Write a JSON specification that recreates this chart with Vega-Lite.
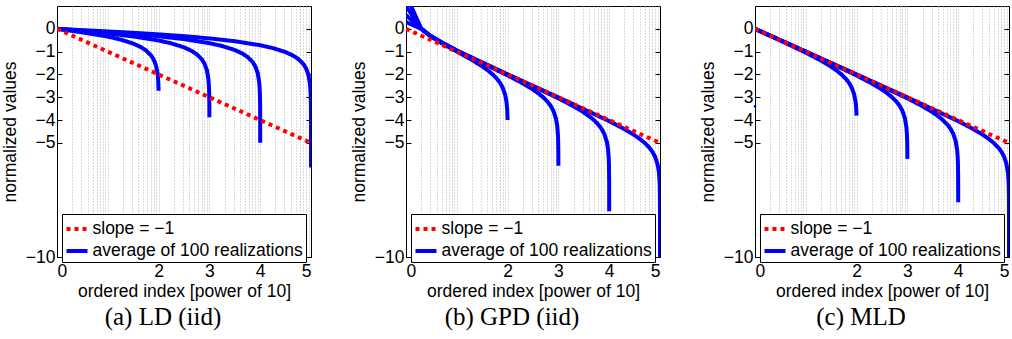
{
  "$schema": "https://vega.github.io/schema/vega-lite/v6.json",
  "padding": {"left": 0, "top": 5, "right": 0, "bottom": 0},
  "background": "white",
  "config": {
    "font": "Liberation Sans",
    "view": {"stroke": "black", "strokeWidth": 1},
    "axis": {"labelFont": "Liberation Sans", "titleFont": "Liberation Sans", "labelFontSize": 17.5, "titleFontSize": 17.5, "titleFontWeight": "normal", "labelColor": "black", "titleColor": "black", "domain": false, "tickColor": "black", "grid": false},
    "legend": {"labelLimit": 400},
    "title": {"font": "Liberation Serif", "fontSize": 25, "fontWeight": "normal", "color": "black"}
  },
  "data": {"values": [
    {"p":"a","s":"slope","n":0,"x":0,"y":0},{"p":"a","s":"slope","n":0,"x":5,"y":-5},
    {"p":"b","s":"slope","n":0,"x":0,"y":0},{"p":"b","s":"slope","n":0,"x":5,"y":-5},
    {"p":"c","s":"slope","n":0,"x":0,"y":0},{"p":"c","s":"slope","n":0,"x":5,"y":-5},
    {"p":"c","s":"dot","n":0,"x":0,"y":-3.4},

    {"p":"a","s":"avg","n":2,"x":0,"y":0},{"p":"a","s":"avg","n":2,"x":0.5,"y":-0.155},{"p":"a","s":"avg","n":2,"x":1,"y":-0.342},{"p":"a","s":"avg","n":2,"x":1.25,"y":-0.469},{"p":"a","s":"avg","n":2,"x":1.5,"y":-0.646},{"p":"a","s":"avg","n":2,"x":1.65,"y":-0.8},{"p":"a","s":"avg","n":2,"x":1.75,"y":-0.944},{"p":"a","s":"avg","n":2,"x":1.85,"y":-1.162},{"p":"a","s":"avg","n":2,"x":1.9,"y":-1.332},{"p":"a","s":"avg","n":2,"x":1.95,"y":-1.616},{"p":"a","s":"avg","n":2,"x":1.98,"y":-1.965},{"p":"a","s":"avg","n":2,"x":1.9868,"y":-2.106},{"p":"a","s":"avg","n":2,"x":1.9912,"y":-2.234},{"p":"a","s":"avg","n":2,"x":1.9956,"y":-2.412},{"p":"a","s":"avg","n":2,"x":2,"y":-2.715},

    {"p":"a","s":"avg","n":3,"x":0,"y":0},{"p":"a","s":"avg","n":3,"x":0.5,"y":-0.101},{"p":"a","s":"avg","n":3,"x":1,"y":-0.206},{"p":"a","s":"avg","n":3,"x":1.5,"y":-0.334},{"p":"a","s":"avg","n":3,"x":2,"y":-0.511},{"p":"a","s":"avg","n":3,"x":2.25,"y":-0.636},{"p":"a","s":"avg","n":3,"x":2.5,"y":-0.812},{"p":"a","s":"avg","n":3,"x":2.65,"y":-0.967},{"p":"a","s":"avg","n":3,"x":2.75,"y":-1.113},{"p":"a","s":"avg","n":3,"x":2.85,"y":-1.334},{"p":"a","s":"avg","n":3,"x":2.9,"y":-1.51},{"p":"a","s":"avg","n":3,"x":2.95,"y":-1.809},{"p":"a","s":"avg","n":3,"x":2.98,"y":-2.201},{"p":"a","s":"avg","n":3,"x":2.99,"y":-2.493},{"p":"a","s":"avg","n":3,"x":2.995,"y":-2.778},{"p":"a","s":"avg","n":3,"x":2.998,"y":-3.125},{"p":"a","s":"avg","n":3,"x":2.99913,"y":-3.397},{"p":"a","s":"avg","n":3,"x":2.99957,"y":-3.573},{"p":"a","s":"avg","n":3,"x":3,"y":-3.874},

    {"p":"a","s":"avg","n":4,"x":0,"y":0},{"p":"a","s":"avg","n":4,"x":0.5,"y":-0.075},{"p":"a","s":"avg","n":4,"x":1,"y":-0.148},{"p":"a","s":"avg","n":4,"x":1.5,"y":-0.229},{"p":"a","s":"avg","n":4,"x":2,"y":-0.327},{"p":"a","s":"avg","n":4,"x":2.5,"y":-0.452},{"p":"a","s":"avg","n":4,"x":3,"y":-0.628},{"p":"a","s":"avg","n":4,"x":3.25,"y":-0.753},{"p":"a","s":"avg","n":4,"x":3.5,"y":-0.929},{"p":"a","s":"avg","n":4,"x":3.65,"y":-1.084},{"p":"a","s":"avg","n":4,"x":3.75,"y":-1.23},{"p":"a","s":"avg","n":4,"x":3.85,"y":-1.452},{"p":"a","s":"avg","n":4,"x":3.9,"y":-1.628},{"p":"a","s":"avg","n":4,"x":3.95,"y":-1.93},{"p":"a","s":"avg","n":4,"x":3.98,"y":-2.327},{"p":"a","s":"avg","n":4,"x":3.99,"y":-2.627},{"p":"a","s":"avg","n":4,"x":3.995,"y":-2.93},{"p":"a","s":"avg","n":4,"x":3.998,"y":-3.318},{"p":"a","s":"avg","n":4,"x":3.999,"y":-3.61},{"p":"a","s":"avg","n":4,"x":3.9996,"y":-3.991},{"p":"a","s":"avg","n":4,"x":3.99996,"y":-4.69},{"p":"a","s":"avg","n":4,"x":4,"y":-4.991},

    {"p":"a","s":"avg","n":5,"x":0,"y":0},{"p":"a","s":"avg","n":5,"x":0.5,"y":-0.06},{"p":"a","s":"avg","n":5,"x":1,"y":-0.116},{"p":"a","s":"avg","n":5,"x":1.5,"y":-0.175},{"p":"a","s":"avg","n":5,"x":2,"y":-0.243},{"p":"a","s":"avg","n":5,"x":2.5,"y":-0.322},{"p":"a","s":"avg","n":5,"x":3,"y":-0.419},{"p":"a","s":"avg","n":5,"x":3.5,"y":-0.544},{"p":"a","s":"avg","n":5,"x":4,"y":-0.72},{"p":"a","s":"avg","n":5,"x":4.25,"y":-0.845},{"p":"a","s":"avg","n":5,"x":4.5,"y":-1.021},{"p":"a","s":"avg","n":5,"x":4.65,"y":-1.176},{"p":"a","s":"avg","n":5,"x":4.75,"y":-1.322},{"p":"a","s":"avg","n":5,"x":4.85,"y":-1.544},{"p":"a","s":"avg","n":5,"x":4.9,"y":-1.72},{"p":"a","s":"avg","n":5,"x":4.95,"y":-2.021},{"p":"a","s":"avg","n":5,"x":4.98,"y":-2.419},{"p":"a","s":"avg","n":5,"x":4.99,"y":-2.72},{"p":"a","s":"avg","n":5,"x":4.995,"y":-3.021},{"p":"a","s":"avg","n":5,"x":4.998,"y":-3.418},{"p":"a","s":"avg","n":5,"x":4.999,"y":-3.718},{"p":"a","s":"avg","n":5,"x":4.9996,"y":-4.114},{"p":"a","s":"avg","n":5,"x":4.9999,"y":-4.702},{"p":"a","s":"avg","n":5,"x":4.99996,"y":-5.082},{"p":"a","s":"avg","n":5,"x":5,"y":-6.082},

    {"p":"b","s":"avg","n":2,"x":0,"y":0.3},{"p":"b","s":"avg","n":2,"x":0.301,"y":-0.004},{"p":"b","s":"avg","n":2,"x":0.477,"y":-0.31},{"p":"b","s":"avg","n":2,"x":0.699,"y":-0.62},{"p":"b","s":"avg","n":2,"x":1,"y":-0.995},{"p":"b","s":"avg","n":2,"x":1.301,"y":-1.37},{"p":"b","s":"avg","n":2,"x":1.477,"y":-1.611},{"p":"b","s":"avg","n":2,"x":1.602,"y":-1.806},{"p":"b","s":"avg","n":2,"x":1.699,"y":-1.983},{"p":"b","s":"avg","n":2,"x":1.778,"y":-2.158},{"p":"b","s":"avg","n":2,"x":1.845,"y":-2.347},{"p":"b","s":"avg","n":2,"x":1.903,"y":-2.575},{"p":"b","s":"avg","n":2,"x":1.954,"y":-2.908},{"p":"b","s":"avg","n":2,"x":1.978,"y":-3.195},{"p":"b","s":"avg","n":2,"x":1.9912,"y":-3.51},{"p":"b","s":"avg","n":2,"x":1.99564,"y":-3.69},{"p":"b","s":"avg","n":2,"x":2,"y":-3.996},

    {"p":"b","s":"avg","n":3,"x":0,"y":0.6},{"p":"b","s":"avg","n":3,"x":0.301,"y":0},{"p":"b","s":"avg","n":3,"x":0.477,"y":-0.302},{"p":"b","s":"avg","n":3,"x":1,"y":-0.958},{"p":"b","s":"avg","n":3,"x":1.505,"y":-1.505},{"p":"b","s":"avg","n":3,"x":2,"y":-2.041},{"p":"b","s":"avg","n":3,"x":2.301,"y":-2.395},{"p":"b","s":"avg","n":3,"x":2.477,"y":-2.63},{"p":"b","s":"avg","n":3,"x":2.602,"y":-2.822},{"p":"b","s":"avg","n":3,"x":2.699,"y":-2.998},{"p":"b","s":"avg","n":3,"x":2.778,"y":-3.174},{"p":"b","s":"avg","n":3,"x":2.845,"y":-3.366},{"p":"b","s":"avg","n":3,"x":2.903,"y":-3.599},{"p":"b","s":"avg","n":3,"x":2.954,"y":-3.95},{"p":"b","s":"avg","n":3,"x":2.978,"y":-4.27},{"p":"b","s":"avg","n":3,"x":2.9912,"y":-4.669},{"p":"b","s":"avg","n":3,"x":2.9956,"y":-4.954},{"p":"b","s":"avg","n":3,"x":2.99913,"y":-5.522},{"p":"b","s":"avg","n":3,"x":2.99957,"y":-5.698},{"p":"b","s":"avg","n":3,"x":3,"y":-6},

    {"p":"b","s":"avg","n":4,"x":0,"y":1},{"p":"b","s":"avg","n":4,"x":0.301,"y":0},{"p":"b","s":"avg","n":4,"x":0.477,"y":-0.301},{"p":"b","s":"avg","n":4,"x":0.699,"y":-0.602},{"p":"b","s":"avg","n":4,"x":1,"y":-0.955},{"p":"b","s":"avg","n":4,"x":2,"y":-2},{"p":"b","s":"avg","n":4,"x":3,"y":-3.045},{"p":"b","s":"avg","n":4,"x":3.301,"y":-3.398},{"p":"b","s":"avg","n":4,"x":3.477,"y":-3.632},{"p":"b","s":"avg","n":4,"x":3.602,"y":-3.824},{"p":"b","s":"avg","n":4,"x":3.699,"y":-4},{"p":"b","s":"avg","n":4,"x":3.778,"y":-4.176},{"p":"b","s":"avg","n":4,"x":3.845,"y":-4.368},{"p":"b","s":"avg","n":4,"x":3.903,"y":-4.602},{"p":"b","s":"avg","n":4,"x":3.954,"y":-4.954},{"p":"b","s":"avg","n":4,"x":3.978,"y":-5.278},{"p":"b","s":"avg","n":4,"x":3.9912,"y":-5.688},{"p":"b","s":"avg","n":4,"x":3.9956,"y":-5.996},{"p":"b","s":"avg","n":4,"x":3.99913,"y":-6.677},{"p":"b","s":"avg","n":4,"x":3.99983,"y":-7.301},{"p":"b","s":"avg","n":4,"x":3.99996,"y":-7.699},{"p":"b","s":"avg","n":4,"x":4,"y":-8},

    {"p":"b","s":"avg","n":5,"x":0,"y":1.5},{"p":"b","s":"avg","n":5,"x":0.301,"y":0},{"p":"b","s":"avg","n":5,"x":0.477,"y":-0.301},{"p":"b","s":"avg","n":5,"x":0.699,"y":-0.602},{"p":"b","s":"avg","n":5,"x":1,"y":-0.954},{"p":"b","s":"avg","n":5,"x":2,"y":-1.996},{"p":"b","s":"avg","n":5,"x":3,"y":-3.004},{"p":"b","s":"avg","n":5,"x":4,"y":-4.046},{"p":"b","s":"avg","n":5,"x":4.301,"y":-4.398},{"p":"b","s":"avg","n":5,"x":4.477,"y":-4.632},{"p":"b","s":"avg","n":5,"x":4.602,"y":-4.824},{"p":"b","s":"avg","n":5,"x":4.699,"y":-5},{"p":"b","s":"avg","n":5,"x":4.778,"y":-5.176},{"p":"b","s":"avg","n":5,"x":4.845,"y":-5.368},{"p":"b","s":"avg","n":5,"x":4.903,"y":-5.602},{"p":"b","s":"avg","n":5,"x":4.954,"y":-5.954},{"p":"b","s":"avg","n":5,"x":4.978,"y":-6.278},{"p":"b","s":"avg","n":5,"x":4.9912,"y":-6.688},{"p":"b","s":"avg","n":5,"x":4.9956,"y":-6.996},{"p":"b","s":"avg","n":5,"x":4.99913,"y":-7.696},{"p":"b","s":"avg","n":5,"x":4.99991,"y":-8.678},{"p":"b","s":"avg","n":5,"x":4.99999,"y":-9.52},{"p":"b","s":"avg","n":5,"x":5,"y":-10},

    {"p":"c","s":"avg","n":2,"x":0,"y":-0.004},{"p":"c","s":"avg","n":2,"x":0.301,"y":-0.31},{"p":"c","s":"avg","n":2,"x":0.5,"y":-0.514},{"p":"c","s":"avg","n":2,"x":1,"y":-1.045},{"p":"c","s":"avg","n":2,"x":1.3,"y":-1.395},{"p":"c","s":"avg","n":2,"x":1.5,"y":-1.662},{"p":"c","s":"avg","n":2,"x":1.6,"y":-1.816},{"p":"c","s":"avg","n":2,"x":1.7,"y":-1.995},{"p":"c","s":"avg","n":2,"x":1.8,"y":-2.221},{"p":"c","s":"avg","n":2,"x":1.85,"y":-2.368},{"p":"c","s":"avg","n":2,"x":1.9,"y":-2.561},{"p":"c","s":"avg","n":2,"x":1.95,"y":-2.86},{"p":"c","s":"avg","n":2,"x":1.98,"y":-3.2},{"p":"c","s":"avg","n":2,"x":1.99,"y":-3.406},{"p":"c","s":"avg","n":2,"x":2,"y":-3.8},

    {"p":"c","s":"avg","n":3,"x":0,"y":0},{"p":"c","s":"avg","n":3,"x":0.301,"y":-0.302},{"p":"c","s":"avg","n":3,"x":1,"y":-1.004},{"p":"c","s":"avg","n":3,"x":1.5,"y":-1.514},{"p":"c","s":"avg","n":3,"x":2,"y":-2.046},{"p":"c","s":"avg","n":3,"x":2.3,"y":-2.396},{"p":"c","s":"avg","n":3,"x":2.5,"y":-2.665},{"p":"c","s":"avg","n":3,"x":2.6,"y":-2.82},{"p":"c","s":"avg","n":3,"x":2.7,"y":-3.001},{"p":"c","s":"avg","n":3,"x":2.8,"y":-3.231},{"p":"c","s":"avg","n":3,"x":2.85,"y":-3.382},{"p":"c","s":"avg","n":3,"x":2.9,"y":-3.584},{"p":"c","s":"avg","n":3,"x":2.95,"y":-3.907},{"p":"c","s":"avg","n":3,"x":2.98,"y":-4.309},{"p":"c","s":"avg","n":3,"x":2.99,"y":-4.597},{"p":"c","s":"avg","n":3,"x":2.995,"y":-4.867},{"p":"c","s":"avg","n":3,"x":2.998,"y":-5.179},{"p":"c","s":"avg","n":3,"x":3,"y":-5.699},

    {"p":"c","s":"avg","n":4,"x":0,"y":0},{"p":"c","s":"avg","n":4,"x":0.301,"y":-0.301},{"p":"c","s":"avg","n":4,"x":1,"y":-1},{"p":"c","s":"avg","n":4,"x":2,"y":-2.004},{"p":"c","s":"avg","n":4,"x":3,"y":-3.046},{"p":"c","s":"avg","n":4,"x":3.3,"y":-3.397},{"p":"c","s":"avg","n":4,"x":3.5,"y":-3.665},{"p":"c","s":"avg","n":4,"x":3.6,"y":-3.82},{"p":"c","s":"avg","n":4,"x":3.7,"y":-4.002},{"p":"c","s":"avg","n":4,"x":3.8,"y":-4.233},{"p":"c","s":"avg","n":4,"x":3.85,"y":-4.384},{"p":"c","s":"avg","n":4,"x":3.9,"y":-4.587},{"p":"c","s":"avg","n":4,"x":3.95,"y":-4.913},{"p":"c","s":"avg","n":4,"x":3.98,"y":-5.325},{"p":"c","s":"avg","n":4,"x":3.99,"y":-5.629},{"p":"c","s":"avg","n":4,"x":3.995,"y":-5.929},{"p":"c","s":"avg","n":4,"x":3.998,"y":-6.317},{"p":"c","s":"avg","n":4,"x":3.9995,"y":-6.87},{"p":"c","s":"avg","n":4,"x":4,"y":-7.602},

    {"p":"c","s":"avg","n":5,"x":0,"y":0},{"p":"c","s":"avg","n":5,"x":0.301,"y":-0.301},{"p":"c","s":"avg","n":5,"x":1,"y":-1},{"p":"c","s":"avg","n":5,"x":2,"y":-2},{"p":"c","s":"avg","n":5,"x":3,"y":-3.004},{"p":"c","s":"avg","n":5,"x":4,"y":-4.046},{"p":"c","s":"avg","n":5,"x":4.3,"y":-4.397},{"p":"c","s":"avg","n":5,"x":4.5,"y":-4.665},{"p":"c","s":"avg","n":5,"x":4.6,"y":-4.82},{"p":"c","s":"avg","n":5,"x":4.7,"y":-5.002},{"p":"c","s":"avg","n":5,"x":4.8,"y":-5.233},{"p":"c","s":"avg","n":5,"x":4.85,"y":-5.385},{"p":"c","s":"avg","n":5,"x":4.9,"y":-5.587},{"p":"c","s":"avg","n":5,"x":4.95,"y":-5.914},{"p":"c","s":"avg","n":5,"x":4.98,"y":-6.327},{"p":"c","s":"avg","n":5,"x":4.99,"y":-6.633},{"p":"c","s":"avg","n":5,"x":4.995,"y":-6.936},{"p":"c","s":"avg","n":5,"x":4.998,"y":-7.335},{"p":"c","s":"avg","n":5,"x":4.9995,"y":-7.939},{"p":"c","s":"avg","n":5,"x":4.9999,"y":-8.638},{"p":"c","s":"avg","n":5,"x":5,"y":-10.2}
  ]},
  "spacing": 95,
  "bounds": "flush",
  "resolve": {"scale": {"color": "independent", "strokeDash": "independent"}},
  "hconcat": [
    {
      "width": 254, "height": 251,
      "title": {"text": "(a) LD (iid)", "orient": "bottom", "dx": -21, "offset": 5},
      "transform": [{"filter": "datum.p == 'a'"}],
      "resolve": {"axis": {"x": "independent", "y": "independent"}},
      "layer": [
        {"transform": [{"filter": "datum.s == 'avg'"}],
         "mark": {"type": "line", "clip": true, "strokeWidth": 4},
         "encoding": {
           "x": {"field": "x", "type": "quantitative", "scale": {"domain": [0, 5], "nice": false}, "axis": {"orient": "bottom", "values": [0.30103,0.47712,0.60206,0.69897,0.77815,0.8451,0.90309,0.95424,1,1.30103,1.47712,1.60206,1.69897,1.77815,1.8451,1.90309,1.95424,2,2.30103,2.47712,2.60206,2.69897,2.77815,2.8451,2.90309,2.95424,3,3.30103,3.47712,3.60206,3.69897,3.77815,3.8451,3.90309,3.95424,4,4.30103,4.47712,4.60206,4.69897,4.77815,4.8451,4.90309,4.95424], "grid": true, "gridColor": "#b4b4b4", "gridDash": [1, 2], "gridWidth": 1, "ticks": false, "labels": false, "title": null}},
           "y": {"field": "y", "type": "quantitative", "scale": {"domain": [-10, 1], "nice": false, "zero": false}, "axis": {"orient": "left", "values": [-10, -5, -4, -3, -2, -1, 0], "tickSize": -5, "labelPadding": 7, "title": "normalized values", "titlePadding": 6}},
           "detail": {"field": "n", "type": "nominal"},
           "color": {"field": "s", "type": "nominal", "scale": {"domain": ["slope", "avg"], "range": ["#ff0000", "#0000ff"]}, "legend": {"title": null, "orient": "none", "legendX": 5, "legendY": 208, "labelExpr": "datum.label == 'slope' ? 'slope = −1' : 'average of 100 realizations'", "symbolType": "stroke", "symbolStrokeWidth": 4, "symbolSize": 441, "labelFontSize": 17.5, "labelFont": "Liberation Sans", "labelColor": "black", "strokeColor": "black", "fillColor": "white", "padding": 2.5, "rowPadding": 1, "labelOffset": 3, "labelLimit": 400}},
           "strokeDash": {"field": "s", "type": "nominal", "scale": {"domain": ["slope", "avg"], "range": [[4, 4], [1, 0]]}, "legend": {"title": null, "orient": "none", "legendX": 5, "legendY": 208, "labelExpr": "datum.label == 'slope' ? 'slope = −1' : 'average of 100 realizations'", "symbolType": "stroke", "symbolStrokeWidth": 4, "symbolSize": 441, "labelFontSize": 17.5, "labelFont": "Liberation Sans", "labelColor": "black", "strokeColor": "black", "fillColor": "white", "padding": 2.5, "rowPadding": 1, "labelOffset": 3, "labelLimit": 400}}
         }},
        {"transform": [{"filter": "datum.s == 'slope'"}],
         "mark": {"type": "line", "clip": true, "strokeWidth": 4},
         "encoding": {
           "x": {"field": "x", "type": "quantitative", "scale": {"domain": [0, 5], "nice": false}, "axis": {"orient": "bottom", "values": [0, 2, 3, 4, 5], "tickSize": -5, "labelPadding": 10, "title": "ordered index [power of 10]", "titlePadding": 3}},
           "y": {"field": "y", "type": "quantitative", "scale": {"domain": [-10, 1], "nice": false, "zero": false}, "axis": {"orient": "right", "values": [-10, -5, -4, -3, -2, -1, 0], "tickSize": -5, "labels": false, "title": null}},
           "color": {"field": "s", "type": "nominal"},
           "strokeDash": {"field": "s", "type": "nominal"}
         }}
      ]
    },
    {
      "width": 254, "height": 251,
      "title": {"text": "(b) GPD (iid)", "orient": "bottom", "dx": -21, "offset": 5},
      "transform": [{"filter": "datum.p == 'b'"}],
      "resolve": {"axis": {"x": "independent", "y": "independent"}},
      "layer": [
        {"transform": [{"filter": "datum.s == 'avg'"}],
         "mark": {"type": "line", "clip": true, "strokeWidth": 4},
         "encoding": {
           "x": {"field": "x", "type": "quantitative", "scale": {"domain": [0, 5], "nice": false}, "axis": {"orient": "bottom", "values": [0.30103,0.47712,0.60206,0.69897,0.77815,0.8451,0.90309,0.95424,1,1.30103,1.47712,1.60206,1.69897,1.77815,1.8451,1.90309,1.95424,2,2.30103,2.47712,2.60206,2.69897,2.77815,2.8451,2.90309,2.95424,3,3.30103,3.47712,3.60206,3.69897,3.77815,3.8451,3.90309,3.95424,4,4.30103,4.47712,4.60206,4.69897,4.77815,4.8451,4.90309,4.95424], "grid": true, "gridColor": "#b4b4b4", "gridDash": [1, 2], "gridWidth": 1, "ticks": false, "labels": false, "title": null}},
           "y": {"field": "y", "type": "quantitative", "scale": {"domain": [-10, 1], "nice": false, "zero": false}, "axis": {"orient": "left", "values": [-10, -5, -4, -3, -2, -1, 0], "tickSize": -5, "labelPadding": 7, "title": "normalized values", "titlePadding": 6}},
           "detail": {"field": "n", "type": "nominal"},
           "color": {"field": "s", "type": "nominal", "scale": {"domain": ["slope", "avg"], "range": ["#ff0000", "#0000ff"]}, "legend": {"title": null, "orient": "none", "legendX": 5, "legendY": 208, "labelExpr": "datum.label == 'slope' ? 'slope = −1' : 'average of 100 realizations'", "symbolType": "stroke", "symbolStrokeWidth": 4, "symbolSize": 441, "labelFontSize": 17.5, "labelFont": "Liberation Sans", "labelColor": "black", "strokeColor": "black", "fillColor": "white", "padding": 2.5, "rowPadding": 1, "labelOffset": 3, "labelLimit": 400}},
           "strokeDash": {"field": "s", "type": "nominal", "scale": {"domain": ["slope", "avg"], "range": [[4, 4], [1, 0]]}, "legend": {"title": null, "orient": "none", "legendX": 5, "legendY": 208, "labelExpr": "datum.label == 'slope' ? 'slope = −1' : 'average of 100 realizations'", "symbolType": "stroke", "symbolStrokeWidth": 4, "symbolSize": 441, "labelFontSize": 17.5, "labelFont": "Liberation Sans", "labelColor": "black", "strokeColor": "black", "fillColor": "white", "padding": 2.5, "rowPadding": 1, "labelOffset": 3, "labelLimit": 400}}
         }},
        {"transform": [{"filter": "datum.s == 'slope'"}],
         "mark": {"type": "line", "clip": true, "strokeWidth": 4},
         "encoding": {
           "x": {"field": "x", "type": "quantitative", "scale": {"domain": [0, 5], "nice": false}, "axis": {"orient": "bottom", "values": [0, 2, 3, 4, 5], "tickSize": -5, "labelPadding": 10, "title": "ordered index [power of 10]", "titlePadding": 3}},
           "y": {"field": "y", "type": "quantitative", "scale": {"domain": [-10, 1], "nice": false, "zero": false}, "axis": {"orient": "right", "values": [-10, -5, -4, -3, -2, -1, 0], "tickSize": -5, "labels": false, "title": null}},
           "color": {"field": "s", "type": "nominal"},
           "strokeDash": {"field": "s", "type": "nominal"}
         }}
      ]
    },
    {
      "width": 254, "height": 251,
      "title": {"text": "(c) MLD", "orient": "bottom", "dx": -21, "offset": 5},
      "transform": [{"filter": "datum.p == 'c'"}],
      "resolve": {"axis": {"x": "independent", "y": "independent"}},
      "layer": [
        {"transform": [{"filter": "datum.s == 'avg'"}],
         "mark": {"type": "line", "clip": true, "strokeWidth": 4},
         "encoding": {
           "x": {"field": "x", "type": "quantitative", "scale": {"domain": [0, 5], "nice": false}, "axis": {"orient": "bottom", "values": [0.30103,0.47712,0.60206,0.69897,0.77815,0.8451,0.90309,0.95424,1,1.30103,1.47712,1.60206,1.69897,1.77815,1.8451,1.90309,1.95424,2,2.30103,2.47712,2.60206,2.69897,2.77815,2.8451,2.90309,2.95424,3,3.30103,3.47712,3.60206,3.69897,3.77815,3.8451,3.90309,3.95424,4,4.30103,4.47712,4.60206,4.69897,4.77815,4.8451,4.90309,4.95424], "grid": true, "gridColor": "#b4b4b4", "gridDash": [1, 2], "gridWidth": 1, "ticks": false, "labels": false, "title": null}},
           "y": {"field": "y", "type": "quantitative", "scale": {"domain": [-10, 1], "nice": false, "zero": false}, "axis": {"orient": "left", "values": [-10, -5, -4, -3, -2, -1, 0], "tickSize": -5, "labelPadding": 7, "title": "normalized values", "titlePadding": 6}},
           "detail": {"field": "n", "type": "nominal"},
           "color": {"field": "s", "type": "nominal", "scale": {"domain": ["slope", "avg"], "range": ["#ff0000", "#0000ff"]}, "legend": {"title": null, "orient": "none", "legendX": 5, "legendY": 208, "labelExpr": "datum.label == 'slope' ? 'slope = −1' : 'average of 100 realizations'", "symbolType": "stroke", "symbolStrokeWidth": 4, "symbolSize": 441, "labelFontSize": 17.5, "labelFont": "Liberation Sans", "labelColor": "black", "strokeColor": "black", "fillColor": "white", "padding": 2.5, "rowPadding": 1, "labelOffset": 3, "labelLimit": 400}},
           "strokeDash": {"field": "s", "type": "nominal", "scale": {"domain": ["slope", "avg"], "range": [[4, 4], [1, 0]]}, "legend": {"title": null, "orient": "none", "legendX": 5, "legendY": 208, "labelExpr": "datum.label == 'slope' ? 'slope = −1' : 'average of 100 realizations'", "symbolType": "stroke", "symbolStrokeWidth": 4, "symbolSize": 441, "labelFontSize": 17.5, "labelFont": "Liberation Sans", "labelColor": "black", "strokeColor": "black", "fillColor": "white", "padding": 2.5, "rowPadding": 1, "labelOffset": 3, "labelLimit": 400}}
         }},
        {"transform": [{"filter": "datum.s == 'slope'"}],
         "mark": {"type": "line", "clip": true, "strokeWidth": 4},
         "encoding": {
           "x": {"field": "x", "type": "quantitative", "scale": {"domain": [0, 5], "nice": false}, "axis": {"orient": "bottom", "values": [0, 2, 3, 4, 5], "tickSize": -5, "labelPadding": 10, "title": "ordered index [power of 10]", "titlePadding": 3}},
           "y": {"field": "y", "type": "quantitative", "scale": {"domain": [-10, 1], "nice": false, "zero": false}, "axis": {"orient": "right", "values": [-10, -5, -4, -3, -2, -1, 0], "tickSize": -5, "labels": false, "title": null}},
           "color": {"field": "s", "type": "nominal"},
           "strokeDash": {"field": "s", "type": "nominal"}
         }},
        {"transform": [{"filter": "datum.s == 'dot'"}],
         "mark": {"type": "circle", "color": "#0000ff", "size": 7, "opacity": 1},
         "encoding": {
           "x": {"field": "x", "type": "quantitative", "axis": null},
           "y": {"field": "y", "type": "quantitative", "axis": null}
         }}
      ]
    }
  ]
}
